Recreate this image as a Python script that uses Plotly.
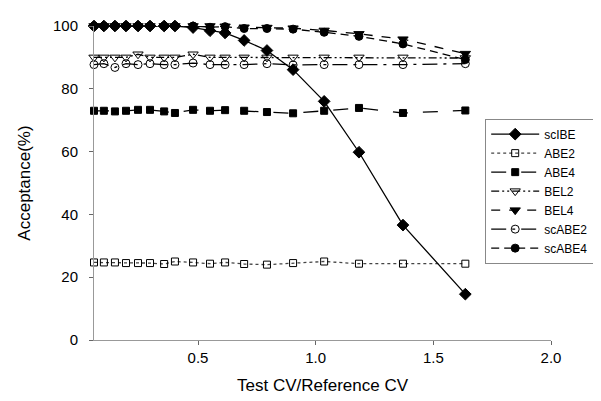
import plotly.graph_objects as go

# Data
x_ratio = [0.058, 0.100, 0.147, 0.194, 0.245, 0.296, 0.356, 0.402, 0.479,
           0.551, 0.615, 0.696, 0.793, 0.904, 1.036, 1.184, 1.371, 1.636]

scIBE = [100, 100, 100, 100, 100, 100, 100, 100, 99.5,
         98.5, 97.8, 95.4, 92.2, 86.1, 76.0, 59.8, 36.6, 14.6]
ABE2 = [24.7, 24.7, 24.7, 24.5, 24.5, 24.5, 24.2, 25.0, 24.7,
        24.3, 24.7, 24.2, 24.0, 24.5, 25.0, 24.3, 24.3, 24.3]
ABE4 = [73.0, 73.0, 72.8, 73.0, 73.3, 73.3, 72.8, 72.3, 73.3,
        73.0, 73.2, 73.0, 72.6, 72.2, 73.0, 73.9, 72.3, 73.1]
BEL2 = [90.0, 90.0, 90.0, 90.0, 91.0, 90.0, 90.0, 90.0, 91.0,
        90.0, 90.0, 90.0, 90.0, 90.0, 90.0, 90.0, 90.0, 89.8]
BEL4 = [100, 100, 100, 100, 100, 100, 100, 100, 100,
        100, 99.9, 99.6, 99.5, 99.3, 98.6, 97.5, 95.8, 91.2]
scABE2 = [87.7, 88.0, 86.8, 88.0, 87.7, 88.0, 87.7, 87.7, 88.2,
          87.7, 87.7, 87.7, 88.0, 87.6, 87.7, 87.7, 87.7, 88.0]
scABE4 = [100, 100, 100, 100, 100, 100, 100, 100, 100,
          99.6, 99.8, 99.2, 99.2, 99.0, 98.0, 96.7, 94.3, 89.3]

y_ticks = [0, 20, 40, 60, 80, 100]
x_ticks = [0.5, 1.0, 1.5, 2.0]
x_ticklabels = ["0.5", "1.0", "1.5", "2.0"]

series = [
    # name, values, dash, symbol, size, rank, line color
    ("ABE2", ABE2, "dot", "square-open", 7, 2, "#444"),
    ("ABE4", ABE4, "longdash", "square", 7, 3, "black"),
    ("BEL2", BEL2, "8px,3px,2px,3px,2px,3px", "triangle-down-open", 9, 4, "black"),
    ("scABE2", scABE2, "longdashdot", "circle-open", 8, 6, "black"),
    ("BEL4", BEL4, "dash", "triangle-down", 9, 5, "black"),
    ("scABE4", scABE4, "8px,5px", "circle", 8, 7, "black"),
    ("scIBE", scIBE, "solid", "diamond", 9, 1, "black"),
]

fig = go.Figure()
for name, vals, dash, sym, size, rank, col in series:
    fig.add_trace(go.Scatter(
        x=x_ratio, y=vals, name=name, mode="lines+markers",
        line=dict(color=col, width=1.3, dash=dash),
        marker=dict(symbol=sym, size=size, color="black",
                    line=dict(color="black", width=1)),
        legendrank=rank, cliponaxis=False,
    ))

fig.update_layout(
    width=601, height=401,
    margin=dict(l=86, r=58, t=18, b=69, autoexpand=False),
    paper_bgcolor="white", plot_bgcolor="white",
    font=dict(family="Liberation Sans, Arial, sans-serif", color="black", size=14),
    showlegend=True,
    legend=dict(
        x=0.856, y=0.705, xanchor="left", yanchor="top",
        bordercolor="#888", borderwidth=1, bgcolor="white",
        font=dict(size=12), tracegroupgap=0, itemwidth=48,
    ),
    xaxis=dict(
        range=[0.058, 2.0], tickvals=x_ticks, ticktext=x_ticklabels,
        ticks="outside", ticklen=4, tickcolor="#666",
        showline=True, linecolor="#999", linewidth=1,
        showgrid=False, zeroline=False,
        tickfont=dict(size=15),
        title=dict(text="Test CV/Reference CV", font=dict(size=17), standoff=14),
    ),
    yaxis=dict(
        range=[0, 100], tickvals=y_ticks,
        ticks="outside", ticklen=4, tickcolor="#666",
        ticklabelstandoff=8,
        showline=True, linecolor="#999", linewidth=1,
        showgrid=False, zeroline=False,
        tickfont=dict(size=15),
        title=dict(text="Acceptance(%)", font=dict(size=17), standoff=18),
    ),
)

fig.write_html("out.html")
